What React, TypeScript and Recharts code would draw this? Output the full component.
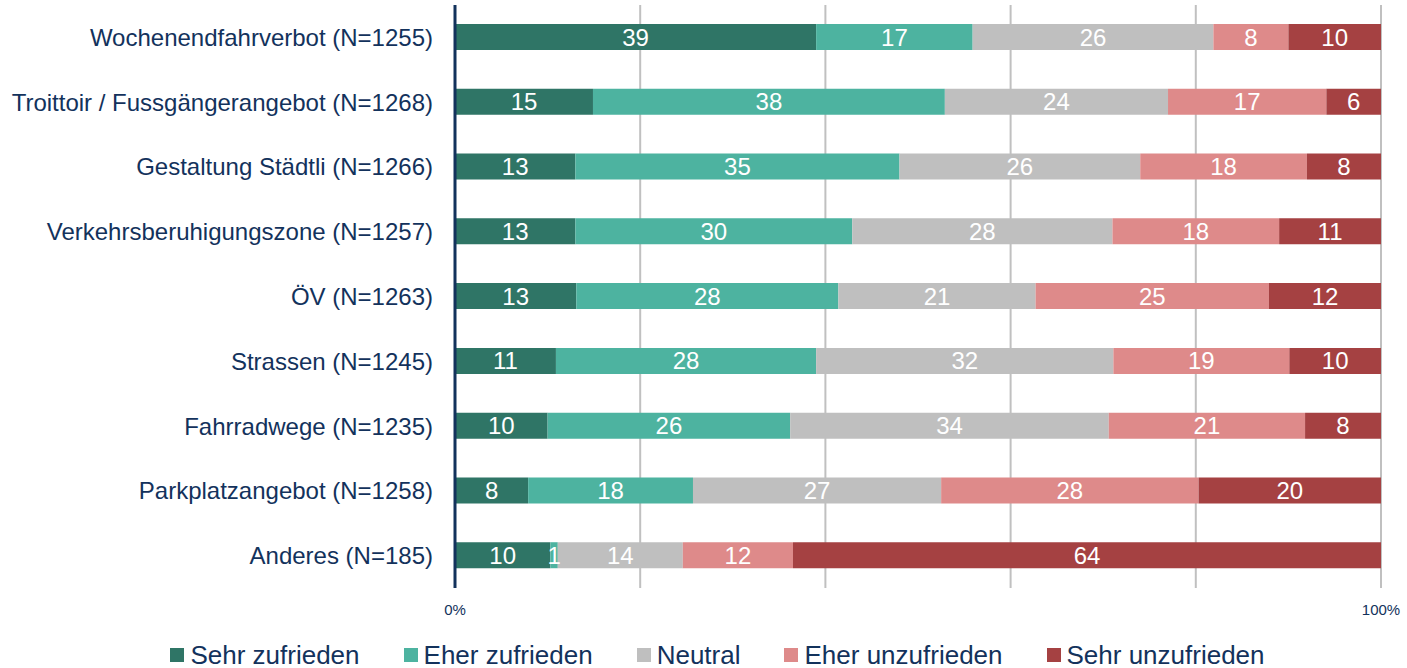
import { Bar, BarChart, CartesianGrid, LabelList, Legend, XAxis, YAxis } from "recharts";

const categories = [
  "Wochenendfahrverbot (N=1255)",
  "Troittoir / Fussgängerangebot (N=1268)",
  "Gestaltung Städtli (N=1266)",
  "Verkehrsberuhigungszone (N=1257)",
  "ÖV (N=1263)",
  "Strassen (N=1245)",
  "Fahrradwege (N=1235)",
  "Parkplatzangebot (N=1258)",
  "Anderes (N=185)",
];

const sehrZufrieden = [39.0, 14.9, 13.0, 13.0, 13.1, 10.9, 10.0, 7.9, 10.3];
const eherZufrieden = [16.9, 38.0, 35.0, 29.9, 28.3, 28.1, 26.2, 17.8, 0.8];
const neutral = [26.0, 24.1, 26.0, 28.1, 21.3, 32.1, 34.4, 26.8, 13.5];
const eherUnzufrieden = [8.1, 17.1, 18.0, 18.0, 25.2, 19.0, 21.2, 27.8, 11.9];
const sehrUnzufrieden = [10.0, 5.9, 8.0, 11.0, 12.1, 9.9, 8.2, 19.7, 63.5];

const xTicks = [0, 0.2, 0.4, 0.6, 0.8, 1];

const series = [
  { key: "sz", name: "Sehr zufrieden", color: "#2f7566" },
  { key: "ez", name: "Eher zufrieden", color: "#4db3a0" },
  { key: "ne", name: "Neutral", color: "#bfbfbf" },
  { key: "eu", name: "Eher unzufrieden", color: "#de8a8a" },
  { key: "su", name: "Sehr unzufrieden", color: "#a54142" },
];

const data = categories.map((name, i) => ({
  name,
  sz: sehrZufrieden[i],
  ez: eherZufrieden[i],
  ne: neutral[i],
  eu: eherUnzufrieden[i],
  su: sehrUnzufrieden[i],
}));

const navy = "#13325c";

function LegendContent() {
  return (
    <div style={{ display: "flex", justifyContent: "center", gap: 44, paddingTop: 12, paddingLeft: 54 }}>
      {series.map((s) => (
        <div key={s.key} style={{ display: "flex", alignItems: "center", gap: 6 }}>
          <span style={{ width: 14, height: 14, background: s.color, display: "inline-block" }} />
          <span style={{ color: navy, fontSize: 26, lineHeight: "30px" }}>{s.name}</span>
        </div>
      ))}
    </div>
  );
}

export default function App() {
  return (
    <div style={{ position: "absolute", left: 0, top: 0, width: 1407, height: 668, fontFamily: "'Liberation Sans', Arial, sans-serif", background: "#fff" }}>
      <BarChart
        width={1407}
        height={668}
        data={data}
        layout="vertical"
        stackOffset="expand"
        barSize={26}
        margin={{ top: 5, right: 26, bottom: 0, left: 0 }}
      >
        <CartesianGrid horizontal={false} stroke="#c0c0c0" strokeWidth={2} />
        <XAxis
          type="number"
          domain={[0, 1]}
          ticks={xTicks}
          tickFormatter={(v: number) => (v === 0 ? "0%" : v === 1 ? "100%" : "")}
          axisLine={false}
          tickLine={false}
          tick={{ fill: navy, fontSize: 15 }}
          tickMargin={10}
          height={40}
        />
        <YAxis
          type="category"
          dataKey="name"
          width={455}
          axisLine={{ stroke: navy, strokeWidth: 3 }}
          tickLine={false}
          tickSize={0}
          tickMargin={22}
          tick={{ fill: navy, fontSize: 24 }}
          interval={0}
        />
        <Legend verticalAlign="bottom" height={40} content={<LegendContent />} />
        {series.map((s) => (
          <Bar key={s.key} dataKey={s.key} name={s.name} stackId="a" fill={s.color} isAnimationActive={false}>
            <LabelList
              dataKey={s.key}
              position="center"
              fill="#ffffff"
              fontSize={24}
              formatter={(v: number) => Math.round(v)}
            />
          </Bar>
        ))}
      </BarChart>
    </div>
  );
}
